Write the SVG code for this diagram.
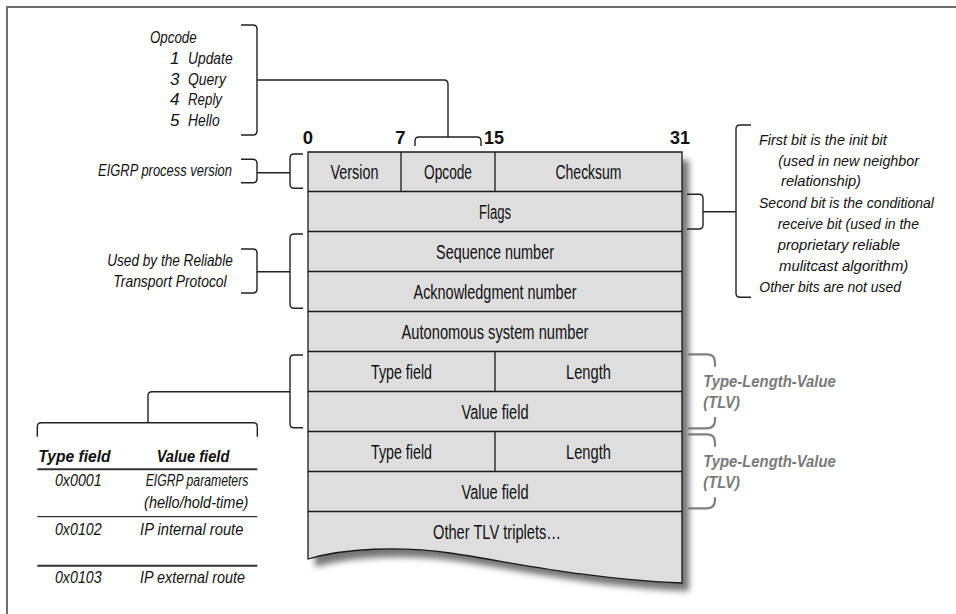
<svg xmlns="http://www.w3.org/2000/svg" width="956" height="614" viewBox="0 0 956 614">
  <defs>
    <filter id="soft" x="-10%" y="-10%" width="130%" height="130%">
      <feGaussianBlur stdDeviation="3"/>
    </filter>
  </defs>
  <style>
    .frame{fill:none;stroke:#6f6f6f;stroke-width:2}
    .body{fill:#dedede;stroke:#1a1a1a;stroke-width:1.3}
    .rule{fill:none;stroke:#1a1a1a;stroke-width:1.3}
    .fld{font-family:"Liberation Sans",Arial,sans-serif;font-size:19.5px;fill:#111;text-anchor:middle}
    .bit{font-family:"Liberation Sans",Arial,sans-serif;font-size:18.5px;font-weight:bold;fill:#111;text-anchor:middle}
    .note{font-family:"Liberation Sans",Arial,sans-serif;font-size:17px;font-style:italic;fill:#111}
    .side{font-size:15.5px}
    .mid{text-anchor:middle}
    .end{text-anchor:end}
    .hdr{font-family:"Liberation Sans",Arial,sans-serif;font-size:17px;font-style:italic;font-weight:bold;fill:#111;text-anchor:middle}
    .tlv{font-family:"Liberation Sans",Arial,sans-serif;font-size:17px;font-style:italic;font-weight:bold;fill:#7a7a7a}
    .br{fill:none;stroke:#222;stroke-width:1.4;stroke-linejoin:round}
    .gbr{fill:none;stroke:#808080;stroke-width:2.2}
    .tline{stroke:#333;fill:none}
  </style>

  <!-- page frame -->
  <path class="frame" d="M7,614 V7 H956"/>

  <!-- packet body with its drop shadow -->
  <g id="packet">
    <path d="M308,152 H682 V583 C590,580 500,560 450,553 C400,546 345,548 308,559 Z" transform="translate(7,8)" fill="#666" opacity="0.9" filter="url(#soft)"/>
    <path class="body" d="M308,152 H682 V583 C590,580 500,560 450,553 C400,546 345,548 308,559 Z"/>
    <path class="rule" d="M308,191.5 H682 M308,231.5 H682 M308,271.5 H682 M308,311.5 H682 M308,351.5 H682 M308,391.5 H682 M308,431.5 H682 M308,471.5 H682 M308,511.5 H682 M401,152 V191.5 M495,152 V191.5 M495,351.5 V391.5 M495,431.5 V471.5"/>
  </g>

  <g id="bits">
    <text class="bit" x="308" y="144">0</text>
    <text class="bit" x="400.5" y="144">7</text>
    <text class="bit" x="494" y="144" textLength="20" lengthAdjust="spacingAndGlyphs">15</text>
    <text class="bit" x="680" y="144" textLength="20" lengthAdjust="spacingAndGlyphs">31</text>
  </g>

  <g id="f-version"><text class="fld" x="354.5" y="179" textLength="48" lengthAdjust="spacingAndGlyphs">Version</text></g>
  <g id="f-opcode"><text class="fld" x="448" y="179" textLength="48" lengthAdjust="spacingAndGlyphs">Opcode</text></g>
  <g id="f-checksum"><text class="fld" x="588.5" y="179" textLength="66" lengthAdjust="spacingAndGlyphs">Checksum</text></g>
  <g id="f-flags"><text class="fld" x="495" y="218.5" textLength="32" lengthAdjust="spacingAndGlyphs">Flags</text></g>
  <g id="f-seq"><text class="fld" x="495" y="258.5" textLength="118" lengthAdjust="spacingAndGlyphs">Sequence number</text></g>
  <g id="f-ack"><text class="fld" x="495" y="298.5" textLength="163" lengthAdjust="spacingAndGlyphs">Acknowledgment number</text></g>
  <g id="f-asn"><text class="fld" x="495" y="338.5" textLength="187" lengthAdjust="spacingAndGlyphs">Autonomous system number</text></g>
  <g id="f-type1"><text class="fld" x="401.5" y="378.5" textLength="61" lengthAdjust="spacingAndGlyphs">Type field</text></g>
  <g id="f-len1"><text class="fld" x="588.5" y="378.5" textLength="45" lengthAdjust="spacingAndGlyphs">Length</text></g>
  <g id="f-val1"><text class="fld" x="495" y="418.5" textLength="67" lengthAdjust="spacingAndGlyphs">Value field</text></g>
  <g id="f-type2"><text class="fld" x="401.5" y="458.5" textLength="61" lengthAdjust="spacingAndGlyphs">Type field</text></g>
  <g id="f-len2"><text class="fld" x="588.5" y="458.5" textLength="45" lengthAdjust="spacingAndGlyphs">Length</text></g>
  <g id="f-val2"><text class="fld" x="495" y="498.5" textLength="67" lengthAdjust="spacingAndGlyphs">Value field</text></g>
  <g id="f-more"><text class="fld" x="497" y="538.5" textLength="128" lengthAdjust="spacingAndGlyphs">Other TLV triplets…</text></g>

  <!-- annotations -->
  <g id="n-opcodes">
    <text class="note" x="150" y="43" textLength="46.7" lengthAdjust="spacingAndGlyphs">Opcode</text>
    <text class="note" x="170" y="64">1</text>
    <text class="note" x="188" y="64" textLength="44.6" lengthAdjust="spacingAndGlyphs">Update</text>
    <text class="note" x="170" y="84.5">3</text>
    <text class="note" x="188" y="84.5" textLength="38" lengthAdjust="spacingAndGlyphs">Query</text>
    <text class="note" x="170" y="105">4</text>
    <text class="note" x="188" y="105" textLength="34" lengthAdjust="spacingAndGlyphs">Reply</text>
    <text class="note" x="170" y="125.5">5</text>
    <text class="note" x="188" y="125.5" textLength="31.6" lengthAdjust="spacingAndGlyphs">Hello</text>
  </g>
  <g id="n-version">
    <text class="note end" x="232" y="176" textLength="134" lengthAdjust="spacingAndGlyphs">EIGRP process version</text>
  </g>
  <g id="n-rtp">
    <text class="note mid" x="170" y="265.7" textLength="125.6" lengthAdjust="spacingAndGlyphs">Used by the Reliable</text>
    <text class="note mid" x="170" y="286.7" textLength="113.4" lengthAdjust="spacingAndGlyphs">Transport Protocol</text>
  </g>
  <g id="n-flags">
    <text class="note side" x="759" y="145" textLength="127.7" lengthAdjust="spacingAndGlyphs">First bit is the init bit</text>
    <text class="note side" x="778.3" y="165.5" textLength="140.7" lengthAdjust="spacingAndGlyphs">(used in new neighbor</text>
    <text class="note side" x="781" y="186" textLength="80" lengthAdjust="spacingAndGlyphs">relationship)</text>
    <text class="note side" x="759" y="207.5" textLength="175" lengthAdjust="spacingAndGlyphs">Second bit is the conditional</text>
    <text class="note side" x="777.7" y="229" textLength="141.3" lengthAdjust="spacingAndGlyphs">receive bit (used in the</text>
    <text class="note side" x="777.7" y="250" textLength="122.3" lengthAdjust="spacingAndGlyphs">proprietary reliable</text>
    <text class="note side" x="779" y="271" textLength="129.3" lengthAdjust="spacingAndGlyphs">mulitcast algorithm)</text>
    <text class="note side" x="759.3" y="292" textLength="141.7" lengthAdjust="spacingAndGlyphs">Other bits are not used</text>
  </g>
  <g id="n-tlv1">
    <text class="tlv" x="703.3" y="387" textLength="132.4" lengthAdjust="spacingAndGlyphs">Type-Length-Value</text>
    <text class="tlv" x="703.3" y="408" textLength="36.7" lengthAdjust="spacingAndGlyphs">(TLV)</text>
  </g>
  <g id="n-tlv2">
    <text class="tlv" x="703.3" y="467" textLength="132.4" lengthAdjust="spacingAndGlyphs">Type-Length-Value</text>
    <text class="tlv" x="703.3" y="488" textLength="36.7" lengthAdjust="spacingAndGlyphs">(TLV)</text>
  </g>
  <g id="n-types">
    <text class="hdr" x="74.5" y="461.7" textLength="72.3" lengthAdjust="spacingAndGlyphs">Type field</text>
    <text class="hdr" x="193" y="461.7" textLength="72.7" lengthAdjust="spacingAndGlyphs">Value field</text>
    <path class="tline" stroke-width="2" d="M37.3,469.3 H257.3"/>
    <text class="note mid" x="78.3" y="486" textLength="46.7" lengthAdjust="spacingAndGlyphs">0x0001</text>
    <text class="note mid" x="197" y="486" textLength="102.7" lengthAdjust="spacingAndGlyphs">EIGRP parameters</text>
    <text class="note mid" x="196.2" y="508.3" textLength="104.3" lengthAdjust="spacingAndGlyphs">(hello/hold-time)</text>
    <path class="tline" stroke-width="1.3" d="M37.3,516.7 H257.3"/>
    <text class="note mid" x="78.3" y="535" textLength="46.7" lengthAdjust="spacingAndGlyphs">0x0102</text>
    <text class="note mid" x="191.7" y="535" textLength="103.3" lengthAdjust="spacingAndGlyphs">IP internal route</text>
    <path class="tline" stroke-width="2" d="M37.3,565.7 H257.3"/>
    <text class="note mid" x="78.3" y="582.7" textLength="46.7" lengthAdjust="spacingAndGlyphs">0x0103</text>
    <text class="note mid" x="192.5" y="582.7" textLength="105" lengthAdjust="spacingAndGlyphs">IP external route</text>
  </g>

  <!-- brackets and leader lines -->
  <g id="connectors">
    <!-- opcode list to the opcode field -->
    <path class="br" d="M241,25 H253 Q257,25 257,29 V131 Q257,135 253,135 H241"/>
    <path class="br" d="M257,80 H444 Q448,80 448,84 V137"/>
    <path class="br" d="M415,146 V141 Q415,137 419,137 H477 Q481,137 481,141 V146"/>
    <!-- process version -->
    <path class="br" d="M241,159.3 H253 Q257,159.3 257,163.3 V178.7 Q257,182.7 253,182.7 H241"/>
    <path class="br" d="M257,172.7 H290"/>
    <path class="br" d="M303,154 H294 Q290,154 290,158 V184.3 Q290,188.3 294,188.3 H303"/>
    <!-- reliable transport -->
    <path class="br" d="M241,249 H253 Q257,249 257,253 V289 Q257,293 253,293 H241"/>
    <path class="br" d="M257,271.7 H290"/>
    <path class="br" d="M303,234 H294 Q290,234 290,238 V304.3 Q290,308.3 294,308.3 H303"/>
    <!-- first TLV to the type table -->
    <path class="br" d="M303,355 H294 Q290,355 290,359 V423.7 Q290,427.7 294,427.7 H303"/>
    <path class="br" d="M290,391.7 H152 Q148,391.7 148,395.7 V422.7"/>
    <path class="br" d="M37.3,436.7 V426.7 Q37.3,422.7 41.3,422.7 H253.3 Q257.3,422.7 257.3,426.7 V436.7"/>
    <!-- flags -->
    <path class="br" d="M687,194.3 H699 Q703,194.3 703,198.3 V225 Q703,229 699,229 H687"/>
    <path class="br" d="M703,211.7 H736"/>
    <path class="br" d="M751,125 H740 Q736,125 736,129 V293.3 Q736,297.3 740,297.3 H751"/>
    <!-- TLV groupings -->
    <path class="gbr" d="M688,354.3 H707 Q715,354.3 715,362.3 V366.7 M715,417 V420.3 Q715,428.3 707,428.3 H688"/>
    <path class="gbr" d="M688,434.3 H707 Q715,434.3 715,442.3 V446.7 M715,497.3 V500.3 Q715,508.3 707,508.3 H688"/>
  </g>
</svg>
